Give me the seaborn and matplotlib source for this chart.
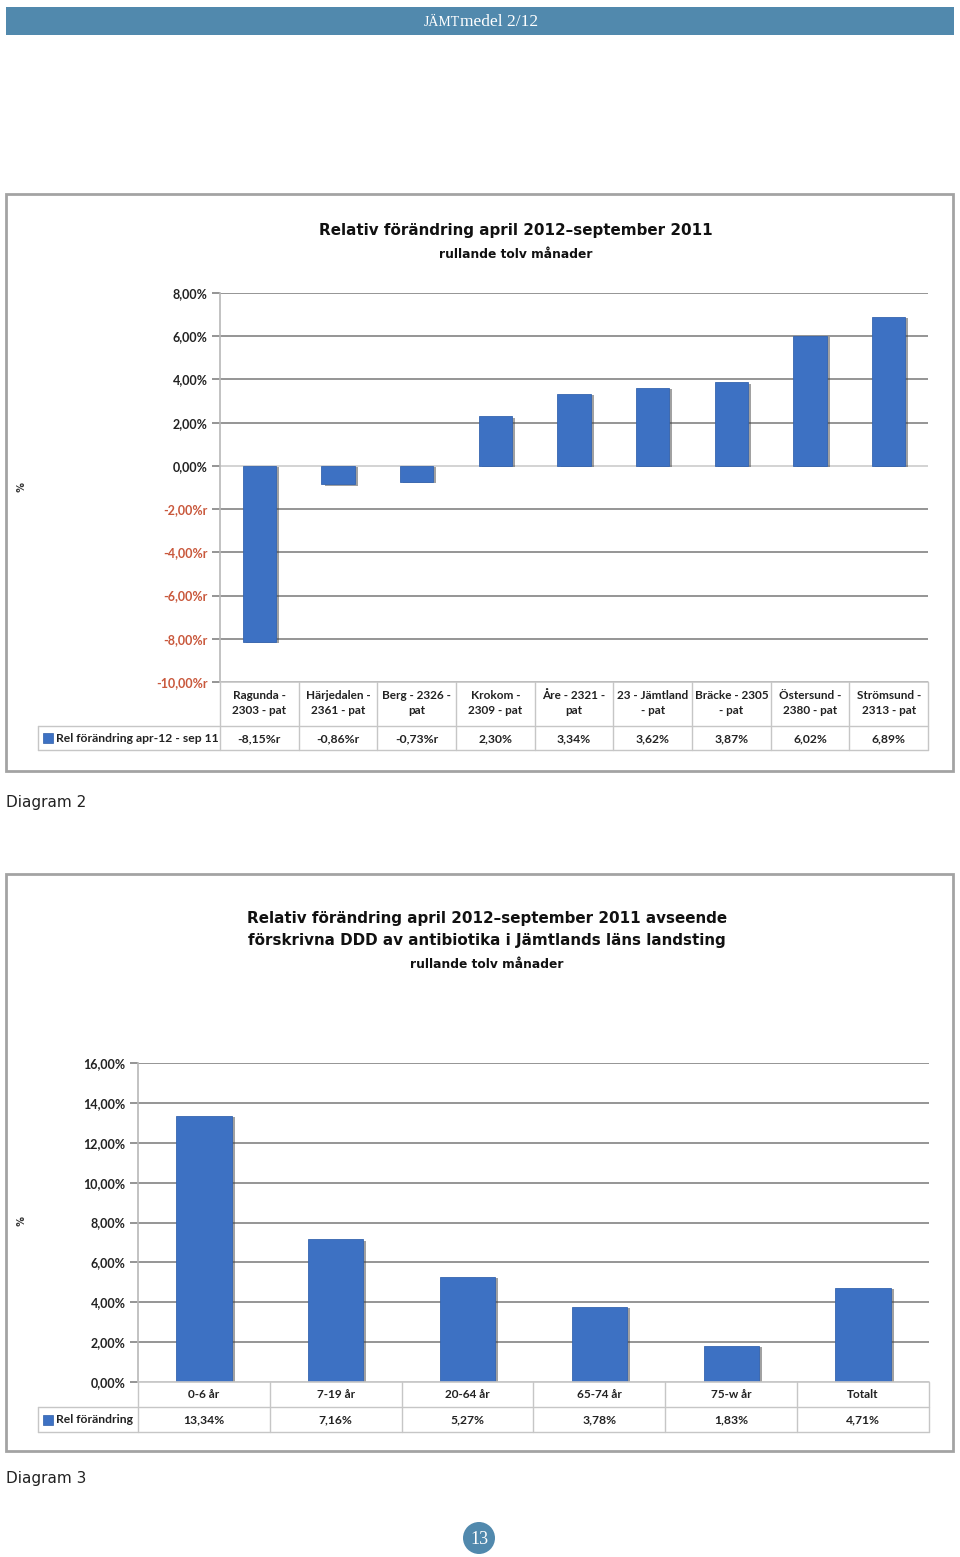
import matplotlib
matplotlib.use('Agg')
import matplotlib.pyplot as plt
import seaborn as sns
from matplotlib.patches import Rectangle, Circle
from matplotlib.lines import Line2D
from matplotlib import transforms
from matplotlib import patheffects as pe

sns.set_theme(style='white')
plt.rcParams['font.family'] = ['DejaVu Sans']

# ---------------- data ----------------
cats1 = ['Ragunda -\n2303 - pat', 'Härjedalen -\n2361 - pat', 'Berg - 2326 -\npat',
         'Krokom -\n2309 - pat', 'Åre - 2321 -\npat', '23 - Jämtland\n- pat',
         'Bräcke - 2305\n- pat', 'Östersund -\n2380 - pat', 'Strömsund -\n2313 - pat']
vals1 = [-8.15, -0.86, -0.73, 2.30, 3.34, 3.62, 3.87, 6.02, 6.89]
labels1 = ['-8,15%r', '-0,86%r', '-0,73%r', '2,30%', '3,34%', '3,62%', '3,87%', '6,02%', '6,89%']
yticks1 = [-10, -8, -6, -4, -2, 0, 2, 4, 6, 8]
yticklabels1 = ['-10,00%r', '-8,00%r', '-6,00%r', '-4,00%r', '-2,00%r',
                '0,00%', '2,00%', '4,00%', '6,00%', '8,00%']
series1 = 'Rel förändring apr-12 - sep 11'
title1 = 'Relativ förändring april 2012–september 2011'
subtitle = 'rullande tolv månader'

cats2 = ['0-6 år', '7-19 år', '20-64 år', '65-74 år', '75-w år', 'Totalt']
vals2 = [13.34, 7.16, 5.27, 3.78, 1.83, 4.71]
labels2 = ['13,34%', '7,16%', '5,27%', '3,78%', '1,83%', '4,71%']
yticks2 = [0, 2, 4, 6, 8, 10, 12, 14, 16]
yticklabels2 = ['0,00%', '2,00%', '4,00%', '6,00%', '8,00%', '10,00%', '12,00%', '14,00%', '16,00%']
series2 = 'Rel förändring'
title2a = 'Relativ förändring april 2012–september 2011 avseende'
title2b = 'förskrivna DDD av antibiotika i Jämtlands läns landsting'

# ---------------- layout helpers ----------------
W, H = 960, 1557
fig = plt.figure(figsize=(W / 100, H / 100), dpi=100)
fig.patch.set_facecolor('white')
FT = fig.transFigure


def fx(x):
    return x / W


def fy(y):
    return 1 - y / H


BLUE_HDR = '#5189ad'
BAR = '#3d71c3'
RED = '#c9583c'
GRID = '#8c8c8c'
TBL = '#c6c6c6'
TXT_FONT = ['Lato', 'DejaVu Sans']

# header bar
fig.add_artist(Rectangle((fx(6), fy(35)), fx(954 - 6), (35 - 7) / H, transform=FT,
                         fc=BLUE_HDR, ec='none', zorder=-2))
fig.text(fx(460), fy(26), 'JÄMT', ha='right', va='baseline', color='white',
         family='Liberation Serif', size=10)
fig.text(fx(460), fy(26), 'medel 2/12', ha='left', va='baseline', color='white',
         family='Liberation Serif', size=12.5)


def frame(top, bottom):
    fig.add_artist(Rectangle((fx(6), fy(bottom)), fx(953 - 6), (bottom - top) / H,
                             transform=FT, fc='white', ec='#a3a3a3', lw=2, zorder=-2))


def chart(cats, vals, yticks, yticklabels, left, right, top, bottom):
    ax = fig.add_axes([fx(left), fy(bottom), fx(right - left), (bottom - top) / H])
    sns.barplot(x=cats, y=vals, order=cats, color=BAR, saturation=1, width=0.42,
                ax=ax, zorder=3)
    for p in ax.patches:
        p.set_edgecolor('#3565b0')
        p.set_linewidth(0.6)
        p.set_path_effects([pe.SimplePatchShadow(offset=(2.2, -1), shadow_rgbFace='#444444',
                                                 alpha=0.5), pe.Normal()])
    ax.set_xlim(-0.5, len(cats) - 0.5)
    ax.set_ylim(yticks[0], yticks[-1])
    ax.set_yticks(yticks)
    ax.set_yticklabels(yticklabels)
    ax.set_xticks([])
    ax.set_xlabel('')
    ax.set_ylabel('')
    ax.patch.set_alpha(0)
    for s in ['top', 'right', 'bottom']:
        ax.spines[s].set_visible(False)
    ax.spines['left'].set_color('#b8b8b8')
    ax.spines['left'].set_linewidth(1.2)
    ax.yaxis.grid(True, color=GRID, lw=1.3)
    for t, gl in zip(yticks, ax.get_ygridlines()):
        if t == 0:
            gl.set_color('#d0d0d0')
    ax.set_axisbelow(True)
    ax.tick_params(axis='y', left=True, length=6, width=1.3, color=GRID, pad=3,
                   labelsize=9)
    for t, lab in zip(yticks, ax.get_yticklabels()):
        lab.set_family(TXT_FONT)
        lab.set_weight('bold')
        lab.set_color(RED if t < 0 else '#222222')
    return ax


def data_table(ax, cats, labels, series, leg_left, left, right, top, mid, bottom,
               cat_y, val_y):
    bt = transforms.blended_transform_factory(ax.transData, FT)
    n = len(cats)
    for i in range(n + 1):
        fig.add_artist(Line2D([i - 0.5, i - 0.5], [fy(top), fy(bottom)], transform=bt,
                              color=TBL, lw=1))
    fig.add_artist(Line2D([fx(left), fx(right)], [fy(top), fy(top)], transform=FT,
                          color=TBL, lw=1.2))
    for yy in (mid, bottom):
        fig.add_artist(Line2D([fx(leg_left), fx(right)], [fy(yy), fy(yy)], transform=FT,
                              color=TBL, lw=1))
    fig.add_artist(Line2D([fx(leg_left), fx(leg_left)], [fy(mid), fy(bottom)],
                          transform=FT, color=TBL, lw=1))
    vc = (mid + bottom) / 2
    fig.add_artist(Rectangle((fx(leg_left + 5), fy(vc + 5)), fx(10), 10 / H, transform=FT,
                             fc=BAR, ec='#2f5ea8', lw=0.5))
    fig.text(fx(leg_left + 18), fy(vc), series, ha='left', va='center', size=8.7,
             family=TXT_FONT, weight='bold', color='#222222')
    for i, (c, l) in enumerate(zip(cats, labels)):
        ax.text(i, fy(cat_y), c, transform=bt, ha='center', va='center', size=8.5,
                family=TXT_FONT, weight='bold', color='#222222', linespacing=1.55)
        ax.text(i, fy(val_y), l, transform=bt, ha='center', va='center', size=8.7,
                family=TXT_FONT, weight='bold', color='#222222')


# ---------------- chart 1 ----------------
frame(194, 771)
fig.text(fx(516), fy(231), title1, ha='center', va='center', size=10.9, weight='bold',
         color='#111111')
fig.text(fx(516), fy(255), subtitle, ha='center', va='center', size=8.8, weight='bold',
         color='#111111')
ax1 = chart(cats1, vals1, yticks1, yticklabels1, 220, 928, 293, 682)
fig.text(fx(18), fy(487), '%', ha='center', va='center', rotation=-90, size=7,
         weight='bold', color='#333333')
data_table(ax1, cats1, labels1, series1, 38, 220, 928, 682, 726, 750, 703, 739)
fig.text(fx(6), fy(803), 'Diagram 2', ha='left', va='center', size=11, color='#222222')

# ---------------- chart 2 ----------------
frame(874, 1451)
fig.text(fx(487), fy(918), title2a, ha='center', va='center', size=10.9, weight='bold',
         color='#111111')
fig.text(fx(487), fy(941), title2b, ha='center', va='center', size=10.9, weight='bold',
         color='#111111')
fig.text(fx(487), fy(965), subtitle, ha='center', va='center', size=8.8, weight='bold',
         color='#111111')
ax2 = chart(cats2, vals2, yticks2, yticklabels2, 138, 929, 1063, 1382)
fig.text(fx(18), fy(1221), '%', ha='center', va='center', rotation=-90, size=7,
         weight='bold', color='#333333')
data_table(ax2, cats2, labels2, series2, 38, 138, 929, 1382, 1407, 1432, 1394, 1420)
fig.text(fx(6), fy(1478), 'Diagram 3', ha='left', va='center', size=11, color='#222222')

# page number
fig.add_artist(Circle((479 / 100, (H - 1538) / 100), 0.16, transform=fig.dpi_scale_trans,
                      fc=BLUE_HDR, ec='none'))
fig.text(fx(479), fy(1539), '13', ha='center', va='center', color='white',
         family='Liberation Serif', size=13)

fig.savefig('out.png', dpi=100)
